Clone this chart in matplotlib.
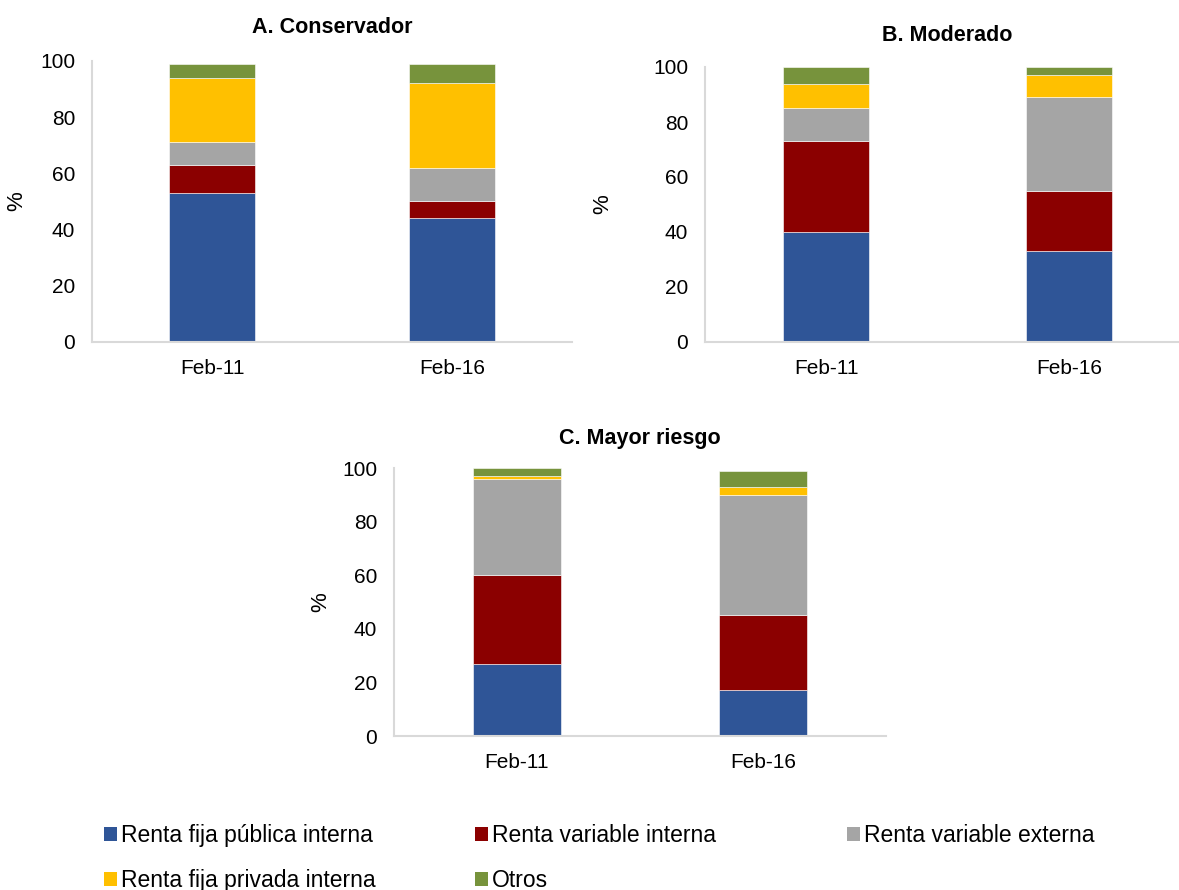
import matplotlib
matplotlib.use("Agg")
import matplotlib.pyplot as plt
from matplotlib.patches import Patch
import numpy as np

plt.rcParams['font.family'] = ['Liberation Sans', 'DejaVu Sans']

# Portfolio composition (%) by fund type
periods = ["Feb-11", "Feb-16"]
series_names = [
    "Renta fija pública interna",
    "Renta variable interna",
    "Renta variable externa",
    "Renta fija privada interna",
    "Otros",
]
series_colors = ["#2F5597", "#8B0000", "#A5A5A5", "#FFC000", "#77933C"]

conservador = {
    "Renta fija pública interna": [53, 44],
    "Renta variable interna": [10, 6],
    "Renta variable externa": [8, 12],
    "Renta fija privada interna": [23, 30],
    "Otros": [5, 7],
}
moderado = {
    "Renta fija pública interna": [40, 33],
    "Renta variable interna": [33, 22],
    "Renta variable externa": [12, 34],
    "Renta fija privada interna": [9, 8],
    "Otros": [6, 3],
}
mayor_riesgo = {
    "Renta fija pública interna": [27, 17],
    "Renta variable interna": [33, 28],
    "Renta variable externa": [36, 45],
    "Renta fija privada interna": [1, 3],
    "Otros": [3, 6],
}

W, H = 1179, 890
fig = plt.figure(figsize=(W / 100, H / 100), dpi=100)


def px_axes(left, top, right, bottom):
    return fig.add_axes([left / W, 1 - bottom / H, (right - left) / W, (bottom - top) / H])


panels = [
    ("A. Conservador", conservador, px_axes(92, 61, 572, 342), 20, -0.135),
    ("B. Moderado", moderado, px_axes(705, 67, 1190, 342), 19, -0.19),
    ("C. Mayor riesgo", mayor_riesgo, px_axes(394, 468, 886, 736), 17, -0.128),
]

x = np.arange(len(periods))
for title, data, ax, tpad, ylx in panels:
    bottom = np.zeros(len(periods))
    for name, color in zip(series_names, series_colors):
        vals = np.array(data[name], dtype=float)
        ax.bar(x, vals, width=0.355, bottom=bottom, color=color,
               edgecolor="white", linewidth=0.4)
        bottom += vals
    ax.set_xlim(-0.5, 1.5)
    ax.set_ylim(0, 100)
    ax.set_yticks([0, 20, 40, 60, 80, 100])
    ax.set_xticks(x)
    ax.set_xticklabels(periods)
    ax.tick_params(axis="both", length=0, labelsize=15, colors="black")
    ax.tick_params(axis="y", pad=12)
    ax.tick_params(axis="x", pad=12)
    for side in ("top", "right"):
        ax.spines[side].set_visible(False)
    for side in ("left", "bottom"):
        ax.spines[side].set_color("#D9D9D9")
        ax.spines[side].set_linewidth(1.5)
    ax.set_title(title, fontsize=15.5, fontweight="bold", pad=tpad)
    ax.set_ylabel("%", fontsize=16)
    ax.yaxis.set_label_coords(ylx, 0.5)

# Legend laid out in three columns, two rows
handles = {n: Patch(facecolor=c, edgecolor="none") for n, c in zip(series_names, series_colors)}
columns = [
    (104, ["Renta fija pública interna", "Renta fija privada interna"]),
    (475, ["Renta variable interna", "Otros"]),
    (847, ["Renta variable externa"]),
]
for xpos, names in columns:
    fig.legend([handles[n] for n in names], names, loc="upper left",
               bbox_to_anchor=(xpos / W, 1 - 824 / H), frameon=False,
               fontsize=16.5, handlelength=0.55, handleheight=0.55,
               handletextpad=0.2, labelspacing=0.95, borderpad=0, borderaxespad=0)

fig.savefig("out.png", dpi=100)
